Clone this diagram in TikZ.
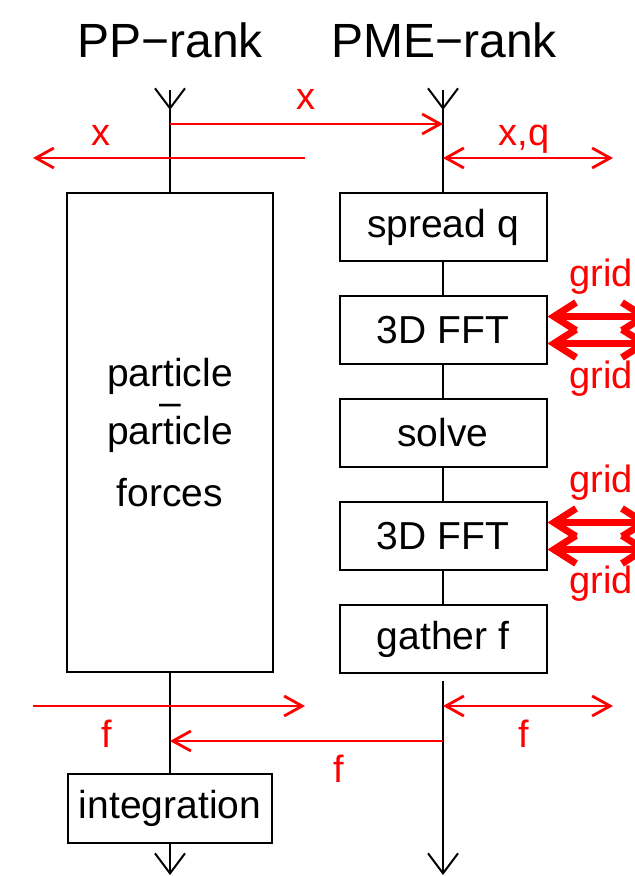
\documentclass[tikz,border=0pt]{standalone}
\usepackage{fontspec}
\setmainfont{Liberation Sans}
\usetikzlibrary{arrows.meta,positioning}

\begin{document}
\begin{tikzpicture}[x=0.5pt, y=-0.5pt, >={Straight Barb[length=9pt,width=10pt]},
  rank/.style={font=\fontsize{24}{28}\selectfont, anchor=base},
  stage/.style={draw, line width=1pt, inner sep=0pt, minimum width=103.5pt, minimum height=34pt, font=\fontsize{19.5}{24}\selectfont, align=center},
  flow/.style={draw, line width=1pt},
  tipdown/.style={-{Straight Barb[length=10pt,width=15pt]}},
  comm/.style={red, line width=1.4pt},
  lbl/.style={red, font=\fontsize{19}{23}\selectfont, anchor=base},
  gridcomm/.style={red, line width=3.5pt, {Straight Barb[length=11pt,width=14pt]}-{Straight Barb[length=11pt,width=14pt]}}]
\useasboundingbox (0,0) rectangle (635,876);
% ranks
\node[rank] (pptitle) at (170,58) {PP−rank};
\node[rank] (pmetitle) at (444,58) {PME−rank};
\coordinate (pptop) at (170,90);
\coordinate (pmetop) at (443,90);
\coordinate (ppbot) at (170,875);
\coordinate (pmebot) at (443,875);
% stages
\node[stage, minimum width=103pt, minimum height=239.5pt] (ppforces) at (170,432.5) {particle\\[-9.5pt]–\\[-9.5pt]particle\\[7pt]forces};
\node[stage] (spreadq) at (443,227) {spread q};
\node[stage] (ffta) at (443,330) {3D FFT};
\node[stage] (solve) at (443,433) {solve};
\node[stage] (fftb) at (443,536) {3D FFT};
\node[stage] (gather) at (443,639) {gather f};
\node[stage, minimum width=102pt, minimum height=34.5pt] (integ) at (170,808.5) {integration};
% time lines
\draw[flow] (pptop) -- (ppforces.north);
\draw[flow, tipdown] (pptop) -- ++(0,20);
\draw[flow] (pmetop) -- (spreadq.north);
\draw[flow, tipdown] (pmetop) -- ++(0,20);
\draw[flow] (ppforces.south) -- (integ.north);
\draw[flow, tipdown] (integ.south) -- (ppbot);
\foreach \a/\b in {spreadq/ffta, ffta/solve, solve/fftb, fftb/gather} \draw[flow] (\a.south) -- (\b.north);
\draw[flow, tipdown, shorten <=3.5pt] (gather.south) -- (pmebot);
% coordinates
\coordinate (xa) at (170,124);
\coordinate (xb) at (443,124);
\coordinate (xl0) at (305,158);
\coordinate (xl1) at (33,158);
\coordinate (xq0) at (443,158);
\coordinate (xq1) at (613,158);
\coordinate (fl0) at (33,706);
\coordinate (fl1) at (305,706);
\coordinate (fr0) at (443,706);
\coordinate (fr1) at (613,706);
\coordinate (fm0) at (443,741);
\coordinate (fm1) at (170,741);
% communication
\draw[comm, ->] (xa) -- (xb);
\draw[comm, ->] (xl0) -- (xl1);
\draw[comm, <->] (xq0) -- (xq1);
\draw[comm, ->] (fl0) -- (fl1);
\draw[comm, <->] (fr0) -- (fr1);
\draw[comm, ->] (fm0) -- (fm1);
\node[lbl] (lx) at (306,110) {x};
\node[lbl] (lxl) at (101,146) {x};
\node[lbl] (lxq) at (524,146) {x,q};
\node[lbl] (lfl) at (107,747) {f};
\node[lbl] (lfr) at (524,747) {f};
\node[lbl] (lfm) at (339,782) {f};
% grid transposes
\draw[gridcomm] ([yshift=6.75pt]ffta.east) -- ++(103,0);
\draw[gridcomm] ([yshift=-6.75pt]ffta.east) -- ++(103,0);
\draw[gridcomm] ([yshift=6.75pt]fftb.east) -- ++(103,0);
\draw[gridcomm] ([yshift=-6.75pt]fftb.east) -- ++(103,0);
\node[lbl] (lg1) at (601,287) {grid};
\node[lbl] (lg2) at (601,388) {grid};
\node[lbl] (lg3) at (601,492) {grid};
\node[lbl] (lg4) at (601,593) {grid};
\end{tikzpicture}
\end{document}
